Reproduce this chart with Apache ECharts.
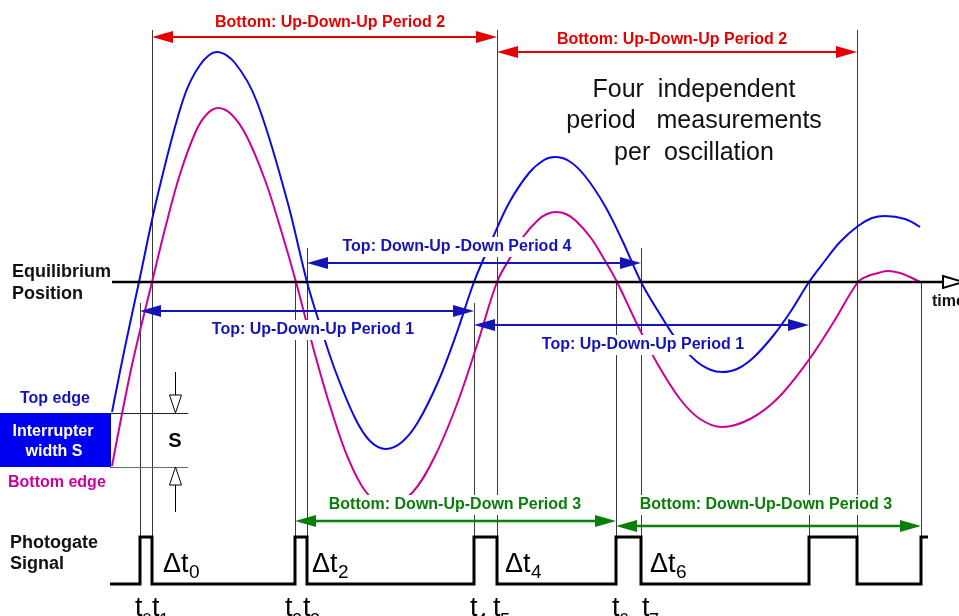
<!DOCTYPE html>
<html>
<head>
<meta charset="utf-8">
<script src="https://cdn.jsdelivr.net/npm/echarts@6/dist/echarts.min.js"></script>
<style>
html, body { margin: 0; padding: 0; background: #fff; }
#grafico { width: 959px; height: 616px; }
</style>
</head>
<body>
<div id="grafico"></div>
<script>
// Datos (unidades del diagrama: x = tiempo, y = desplazamiento hacia abajo)
const equilibrio = 282;
const bordeSuperior = 413;
const bordeInferior = 467;

// Borde superior del interruptor (curva azul)
const curvaAzulX = [112, 125, 139, 157, 183, 200, 217, 235, 257, 287, 307, 320, 335, 355, 370, 386, 402, 418, 438, 456,
    474, 491, 509, 529, 544, 555, 569, 585, 605, 623, 641, 658, 676, 696, 711, 722, 737, 753, 773, 791,
    809, 824, 840, 858, 872, 885, 905, 920];
const curvaAzulY = [412, 347, 282, 198, 100, 65, 52, 63, 102, 200, 282, 325, 370, 418, 441, 449, 442, 422, 382, 335,
    282, 242, 203, 173, 160, 157, 161, 176, 206, 242, 282, 311, 339, 361, 370, 372, 369, 358, 336, 311,
    282, 262, 242, 226, 218, 216, 219, 227];

// Borde inferior del interruptor (curva magenta)
const curvaMagentaX = [112, 132, 152, 166, 180, 196, 207, 218, 231, 246, 265, 281, 296, 313, 330, 348, 366, 387, 412, 435,
    457, 477, 497, 510, 523, 538, 547, 556, 566, 576, 591, 604, 617, 637, 657, 680, 700, 722, 750, 778,
    808, 833, 858, 868, 878, 888, 900, 910, 920];
const curvaMagentaY = [466, 365, 282, 225, 174, 131, 114, 108, 114, 135, 180, 230, 282, 347, 406, 458, 492, 507, 493, 456,
    404, 345, 282, 258, 237, 220, 214, 212, 214, 221, 238, 259, 282, 324, 363, 399, 419, 427, 419, 398,
    361, 323, 282, 276, 273, 271, 273, 277, 282];

// Flancos de la señal de la fotopuerta
const flancos = [140, 152, 295, 307, 474, 497, 616, 641, 809, 857, 921];
const topesGuia = [303, 30, 280, 248, 303, 30, 280, 248, 282, 30, 282];
const senalBaja = 584;
const senalAlta = 537;
const senalInicio = 110;
const senalFin = 928;

// Periodos medidos
const periodoInicio = [152, 497, 307, 140, 474, 295, 616];
const periodoFin = [497, 857, 641, 474, 809, 616, 921];
const periodoNivel = [37, 52, 263, 311, 325, 521, 526];
const periodoTipo = [0, 0, 1, 1, 1, 2, 2];
const periodoTexto = [
    'Bottom: Up-Down-Up Period 2', 'Bottom: Up-Down-Up Period 2',
    'Top: Down-Up -Down Period 4', 'Top: Up-Down-Up Period 1', 'Top: Up-Down-Up Period 1',
    'Bottom: Down-Up-Down Period 3', 'Bottom: Down-Up-Down Period 3'
];
const etiquetasT = ['0', '1', '2', '3', '4', '5', '6', '7'];
const etiquetasDeltaT = ['0', '2', '4', '6'];

// Posiciones de los textos (px)
const periodoTextoX = [330, 672, 457, 313, 643, 455, 766];
const periodoTextoY = [23, 40, 247, 330, 345, 505, 505];
const periodoFondo = [false, false, true, true, true, true, true];
const tX = [135, 152, 285, 303, 470, 493, 612, 642];
const deltaX = [163, 312, 505, 650];
const colores = ['#e60000', '#1414b8', '#0a7d0a'];
const azul = '#0a0ae6';
const magenta = '#cc0099';
const FUENTE = '"Liberation Sans", Arial, sans-serif';

// PROCESAMIENTO
function procesarCurva(xs, ys) {
    return xs.map((x, i) => [x, ys[i]]);
}

function procesarSenal() {
    const puntos = [[senalInicio, senalBaja]];
    flancos.forEach((x, i) => {
        const antes = i % 2 === 0 ? senalBaja : senalAlta;
        const despues = i % 2 === 0 ? senalAlta : senalBaja;
        puntos.push([x, antes], [x, despues]);
    });
    puntos.push([senalFin, senalAlta]);
    return puntos;
}

function procesarPeriodos() {
    return periodoInicio.map((x, i) => [x, periodoFin[i], periodoNivel[i], periodoTipo[i]]);
}

// Dibujo de las flechas dobles de cada periodo
function dibujarFlecha(params, api) {
    const a = api.coord([api.value(0), api.value(2)]);
    const b = api.coord([api.value(1), api.value(2)]);
    const color = colores[api.value(3)];
    const L = 21, W = 6;
    const y = a[1];
    return {
        type: 'group',
        children: [
            { type: 'line', shape: { x1: a[0] + L - 2, y1: y, x2: b[0] - L + 2, y2: y },
              style: { stroke: color, lineWidth: api.value(3) === 2 ? 2.5 : 2 } },
            { type: 'polygon', shape: { points: [[a[0], y], [a[0] + L, y - W], [a[0] + L, y + W]] },
              style: { fill: color } },
            { type: 'polygon', shape: { points: [[b[0], y], [b[0] - L, y - W], [b[0] - L, y + W]] },
              style: { fill: color } }
        ]
    };
}

// Líneas verticales guía en cada flanco
function dibujarGuia(params, api) {
    const a = api.coord([api.value(0), api.value(1)]);
    const b = api.coord([api.value(0), api.value(2)]);
    const x = Math.round(a[0]) + 0.5;
    return { type: 'line', shape: { x1: x, y1: a[1], x2: x, y2: b[1] },
             style: { stroke: '#3a3a3a', lineWidth: 1 } };
}

// Interruptor, cotas del ancho S y punta del eje del tiempo
function dibujarDecoraciones(params, api) {
    const c = p => api.coord(p);
    const r0 = c([0, bordeSuperior]), r1 = c([111, bordeInferior]);
    const h0 = c([110, bordeSuperior]), h1 = c([188, bordeSuperior]);
    const k0 = c([110, bordeInferior]), k1 = c([188, bordeInferior]);
    const cx = Math.round(c([175, 0])[0]) + 0.5;
    const ySup = c([0, bordeSuperior])[1], yInf = c([0, bordeInferior])[1];
    const yA = c([0, 372])[1], yB = c([0, 512])[1];
    const eje = c([943, equilibrio]);
    return {
        type: 'group',
        children: [
            { type: 'rect', shape: { x: r0[0], y: r0[1], width: r1[0] - r0[0], height: r1[1] - r0[1] },
              style: { fill: '#0000f0' } },
            { type: 'line', shape: { x1: h0[0], y1: h0[1] + 0.5, x2: h1[0], y2: h1[1] + 0.5 },
              style: { stroke: '#222', lineWidth: 1 } },
            { type: 'line', shape: { x1: k0[0], y1: k0[1] + 0.5, x2: k1[0], y2: k1[1] + 0.5 },
              style: { stroke: '#666', lineWidth: 1 } },
            { type: 'line', shape: { x1: cx, y1: yA, x2: cx, y2: ySup - 18 },
              style: { stroke: '#000', lineWidth: 1 } },
            { type: 'polygon', shape: { points: [[cx - 6, ySup - 18], [cx + 6, ySup - 18], [cx, ySup]] },
              style: { fill: '#fff', stroke: '#000', lineWidth: 1 } },
            { type: 'line', shape: { x1: cx, y1: yInf + 18, x2: cx, y2: yB },
              style: { stroke: '#000', lineWidth: 1 } },
            { type: 'polygon', shape: { points: [[cx - 6, yInf + 18], [cx + 6, yInf + 18], [cx, yInf]] },
              style: { fill: '#fff', stroke: '#000', lineWidth: 1 } },
            { type: 'polygon', shape: { points: [[eje[0], eje[1] - 6], [eje[0] + 20, eje[1]], [eje[0], eje[1] + 6]] },
              style: { fill: '#fff', stroke: '#000', lineWidth: 2 } }
        ]
    };
}

function texto(t, x, y, color, size, weight, align, fondo) {
    const style = {
        text: t, fill: color,
        font: (weight || 'normal') + ' ' + size + 'px ' + FUENTE,
        align: align || 'left', verticalAlign: 'middle'
    };
    if (fondo) {
        style.backgroundColor = '#fff';
        style.padding = [2, 3];
    }
    return { type: 'text', z: 100, x: x, y: y, silent: true, style: style };
}

function crearTextos() {
    const lista = [];
    periodoTexto.forEach((t, i) => {
        lista.push(texto(t, periodoTextoX[i], periodoTextoY[i], colores[periodoTipo[i]], 16, 'bold', 'center', periodoFondo[i]));
    });
    lista.push(texto('Four  independent', 694, 90, '#111', 25, 'normal', 'center'));
    lista.push(texto('period   measurements', 694, 121, '#111', 25, 'normal', 'center'));
    lista.push(texto('per  oscillation', 694, 153, '#111', 25, 'normal', 'center'));

    lista.push(texto('Equilibrium', 12, 272, '#111', 18, 'bold'));
    lista.push(texto('Position', 12, 294, '#111', 18, 'bold'));
    lista.push(texto('Top edge', 20, 399, '#1414b8', 16, 'bold'));
    lista.push(texto('Interrupter', 53, 432, '#fff', 16, 'bold', 'center'));
    lista.push(texto('width S', 54, 452, '#fff', 16, 'bold', 'center'));
    lista.push(texto('Bottom edge', 8, 483, magenta, 16, 'bold'));
    lista.push(texto('S', 175, 441, '#000', 20, 'bold', 'center'));
    lista.push(texto('Photogate', 10, 543, '#111', 18, 'bold'));
    lista.push(texto('Signal', 10, 564, '#111', 18, 'bold'));
    lista.push(texto('time', 932, 302, '#111', 16, 'bold'));

    etiquetasT.forEach((s, i) => {
        lista.push(texto('t', tX[i], 609, '#000', 27));
        lista.push(texto(s, tX[i] + 7, 621, '#000', 18));
    });
    etiquetasDeltaT.forEach((s, i) => {
        lista.push(texto('\u0394t', deltaX[i], 565, '#000', 27));
        lista.push(texto(s, deltaX[i] + 26, 573, '#000', 19));
    });
    return lista;
}

// Función para crear las opciones del gráfico
function crearGrafico() {
    return {
        animation: false,
        grid: { left: 0, right: 0, top: 0, bottom: 0 },
        xAxis: { type: 'value', min: 0, max: 959, show: false },
        yAxis: { type: 'value', min: 0, max: 616, inverse: true, show: false },
        graphic: { elements: crearTextos() },
        series: [
            {
                name: 'Guías', type: 'custom', z: 1, silent: true,
                renderItem: dibujarGuia,
                encode: { x: 0, y: [1, 2] },
                data: flancos.map((x, i) => [x, topesGuia[i], senalAlta])
            },
            {
                name: 'Decoraciones', type: 'custom', z: 2, silent: true,
                renderItem: dibujarDecoraciones,
                data: [[0, 0]]
            },
            {
                name: 'Borde superior', type: 'line', z: 3, smooth: 0.35, showSymbol: false, silent: true,
                lineStyle: { color: azul, width: 2 },
                data: procesarCurva(curvaAzulX, curvaAzulY)
            },
            {
                name: 'Borde inferior', type: 'line', z: 3, smooth: 0.35, showSymbol: false, silent: true,
                lineStyle: { color: magenta, width: 2 },
                data: procesarCurva(curvaMagentaX, curvaMagentaY)
            },
            {
                name: 'Equilibrio', type: 'line', z: 4, showSymbol: false, silent: true,
                lineStyle: { color: '#000', width: 2.5 },
                data: [[112, equilibrio], [943, equilibrio]]
            },
            {
                name: 'Fotopuerta', type: 'line', z: 4, showSymbol: false, silent: true,
                lineStyle: { color: '#000', width: 3, join: 'miter' },
                data: procesarSenal()
            },
            {
                name: 'Periodos', type: 'custom', z: 5, silent: true,
                renderItem: dibujarFlecha,
                encode: { x: [0, 1], y: 2 },
                data: procesarPeriodos()
            }
        ]
    };
}

function iniciar() {
    const chartDom = document.getElementById('grafico');
    const myChart = echarts.init(chartDom, null, { renderer: 'canvas' });
    myChart.setOption(crearGrafico());
}

iniciar();
</script>
</body>
</html>
